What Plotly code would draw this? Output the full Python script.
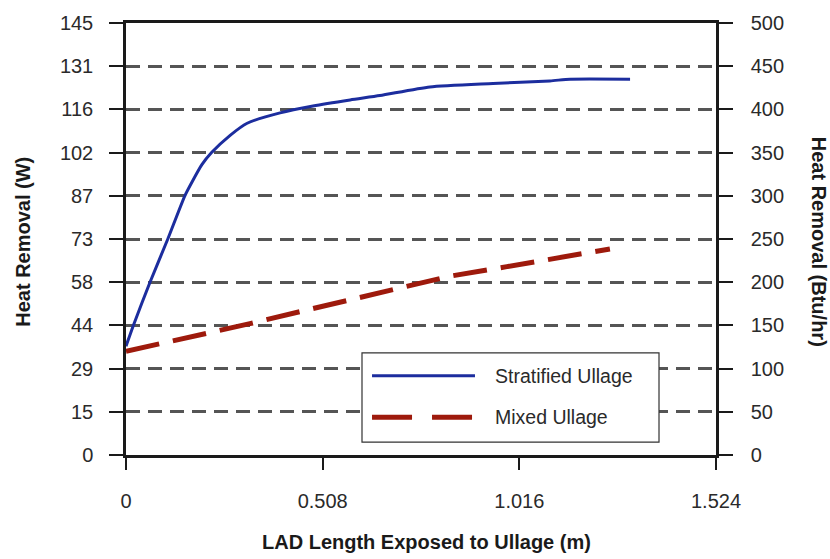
import plotly.graph_objects as go

# LAD length exposed to ullage (m) and heat removal (Btu/hr)
strat_x = [0, 0.019, 0.062, 0.108, 0.152, 0.173, 0.196, 0.221, 0.269, 0.313, 0.398, 0.483, 0.579, 0.656, 0.785, 0.948, 1.095, 1.147, 1.302]
strat_y = [126, 150, 200, 250, 300, 318, 336, 350, 370, 384, 396, 404, 411, 416, 426, 430, 433, 435, 435]

mixed_x = [0, 0.183, 0.320, 0.450, 0.638, 0.708, 0.837, 0.984, 1.095, 1.250]
mixed_y = [120, 138, 152, 166, 186, 194, 207, 218, 227, 238.5]

x_ticks = [0, 0.508, 1.016, 1.524]
x_ticktext = ["0", "0.508", "1.016", "1.524"]
w_ticks = [0, 14.5, 29, 43.5, 58, 72.5, 87, 101.5, 116, 130.5, 145]
w_ticktext = ["0", "15", "29", "44", "58", "73", "87", "102", "116", "131", "145"]
btu_ticks = [0, 50, 100, 150, 200, 250, 300, 350, 400, 450, 500]

series_names = ["Stratified Ullage", "Mixed Ullage"]
blue = "#1c2d9e"
red = "#9e1a0c"
FONT = "Liberation Sans, Arial, sans-serif"

fig = go.Figure()
# invisible trace to anchor the left (W) axis
fig.add_trace(go.Scatter(x=[], y=[], xaxis="x", yaxis="y", showlegend=False, hoverinfo="skip"))
fig.add_trace(go.Scatter(x=strat_x, y=strat_y, mode="lines", name=series_names[0],
                         line=dict(color=blue, width=3, shape="spline", smoothing=0.6),
                         yaxis="y2", showlegend=False))
fig.add_trace(go.Scatter(x=mixed_x, y=mixed_y, mode="lines", name=series_names[1],
                         line=dict(color=red, width=5, dash="34px,14px"),
                         yaxis="y2", showlegend=False))

tickfont = dict(family=FONT, size=20, color="#2a2a2a")

fig.update_layout(
    width=830, height=559,
    margin=dict(l=126, r=114, t=19, b=104),
    paper_bgcolor="white", plot_bgcolor="white",
    xaxis=dict(range=[0, 1.524], tickvals=x_ticks, ticktext=x_ticktext,
               showline=True, linecolor="#1a1a1a", linewidth=2.5, mirror=True,
               ticks="outside", ticklen=12, tickwidth=1.5, tickcolor="#1a1a1a",
               showgrid=False, zeroline=False, tickfont=tickfont,
               ticklabelstandoff=14),
    yaxis=dict(range=[0, 145], tickvals=w_ticks, ticktext=w_ticktext,
               showline=True, linecolor="#1a1a1a", linewidth=2.5,
               ticks="outside", ticklen=14, tickwidth=1.5, tickcolor="#1a1a1a",
               showgrid=True, gridcolor="#555555", gridwidth=2.5, griddash="14px,8px",
               zeroline=False, tickfont=tickfont, ticklabelstandoff=12),
    yaxis2=dict(range=[0, 500], tickvals=btu_ticks, overlaying="y", side="right",
                showline=True, linecolor="#1a1a1a", linewidth=2.5,
                ticks="outside", ticklen=14, tickwidth=1.5, tickcolor="#1a1a1a",
                showgrid=False, zeroline=False, tickfont=tickfont, ticklabelstandoff=14),
)

# legend box (drawn manually to match long line samples)
fig.add_shape(type="rect", xref="paper", yref="paper", x0=0.400, x1=0.9034, y0=0.0298, y1=0.2362,
              line=dict(color="#333333", width=1.2), fillcolor="white", layer="above")
fig.add_shape(type="line", xref="paper", yref="paper", x0=0.417, x1=0.5915, y0=0.1835, y1=0.1835,
              line=dict(color=blue, width=3), layer="above")
fig.add_shape(type="line", xref="paper", yref="paper", x0=0.417, x1=0.5915, y0=0.0872, y1=0.0872,
              line=dict(color=red, width=5, dash="40px,20px"), layer="above")
fig.add_annotation(text=series_names[0], xref="paper", yref="paper", x=0.622, y=0.1835,
                   xanchor="left", yanchor="middle", showarrow=False,
                   font=dict(family=FONT, size=19.5, color="#2a2a2a"))
fig.add_annotation(text=series_names[1], xref="paper", yref="paper", x=0.622, y=0.0872,
                   xanchor="left", yanchor="middle", showarrow=False,
                   font=dict(family=FONT, size=19.5, color="#2a2a2a"))

titlefont = dict(family=FONT, size=20, color="#1a1a1a")
fig.add_annotation(text="<b>Heat Removal (W)</b>", xref="paper", yref="paper", x=-0.175, y=0.493,
                   textangle=-90, showarrow=False, xanchor="center", yanchor="middle", font=titlefont)
fig.add_annotation(text="<b>Heat Removal (Btu/hr)</b>", xref="paper", yref="paper", x=1.175, y=0.493,
                   textangle=90, showarrow=False, xanchor="center", yanchor="middle", font=titlefont)
fig.add_annotation(text="<b>LAD Length Exposed to Ullage (m)</b>", xref="paper", yref="paper",
                   x=0.51, y=-0.202, showarrow=False, xanchor="center", yanchor="middle", font=titlefont)

fig.write_html("out.html")
